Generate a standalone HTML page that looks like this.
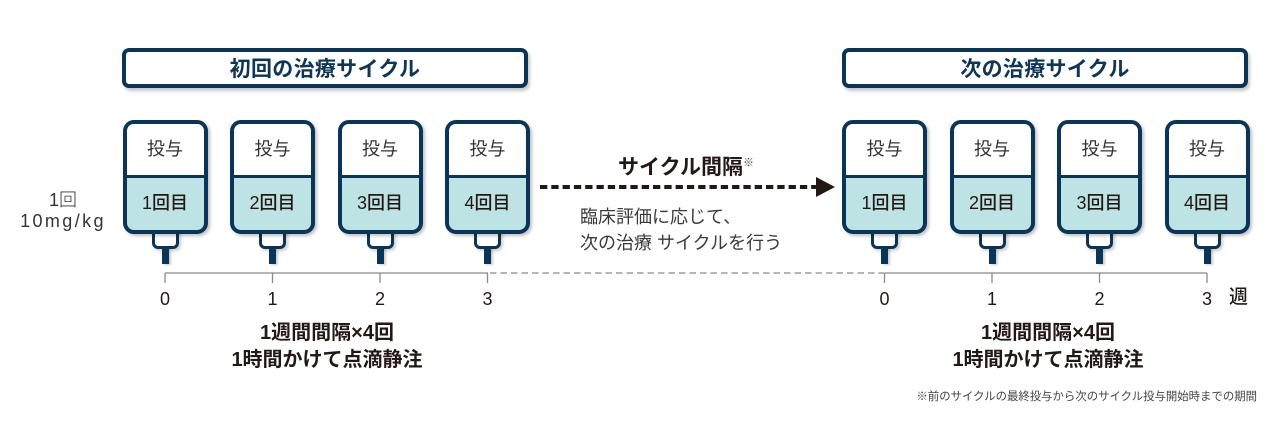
<!DOCTYPE html>
<html><head><meta charset="utf-8"><style>
*{margin:0;padding:0;box-sizing:border-box}
html,body{width:1280px;height:442px;background:#fff;overflow:hidden}
body{position:relative;font-family:"Liberation Sans","Noto Sans CJK JP",sans-serif;color:#231815}
.abs{position:absolute}
.hdr{position:absolute;top:48px;height:40px;width:406px;border:4px solid #0b3558;border-radius:7px;background:#fff;box-shadow:2px 3px 3px rgba(0,0,0,0.22);
 font-size:21px;font-weight:700;color:#0f3557;text-align:center;line-height:32px;padding-top:2px;letter-spacing:0.3px}
.bag{position:absolute;top:120px;width:85px;height:114px;border:4px solid #0b3558;border-radius:11px;overflow:hidden;background:#bde3e5;box-shadow:2px 2px 3px rgba(0,0,0,0.25);z-index:2}
.bag .t{height:54px;background:#fff;border-bottom:3px solid #0b3558;text-align:center;font-size:18px;line-height:51px;color:#333}
.bag .b{text-align:center;font-size:18px;font-weight:500;line-height:50px;color:#231815}
.con{position:absolute;top:227px;width:27px;height:22px;border:3.5px solid #0b3558;border-radius:0 0 6px 6px;background:#fff;z-index:1;box-shadow:2px 2px 3px rgba(0,0,0,0.2)}
.stem{position:absolute;top:248px;width:7px;height:16px;background:#0b3558;z-index:1;box-shadow:2px 1px 2px rgba(0,0,0,0.2)}
.num{position:absolute;width:40px;text-align:center;font-size:18px;line-height:24px;top:287px}
.c{position:absolute;text-align:center}
</style></head><body>

<svg class="abs" style="left:0;top:0" width="1280" height="442">
 <g stroke="#8a8a8a" stroke-width="1.3" fill="none">
  <line x1="165" y1="273" x2="488" y2="273"/>
  <line x1="165" y1="273" x2="165" y2="283"/>
  <line x1="272.5" y1="273" x2="272.5" y2="283"/>
  <line x1="380" y1="273" x2="380" y2="283"/>
  <line x1="487.5" y1="273" x2="487.5" y2="283"/>
  <line x1="490" y1="273" x2="884" y2="273" stroke-dasharray="6.5 4"/>
  <line x1="884.5" y1="273" x2="1207" y2="273"/>
  <line x1="884.5" y1="273" x2="884.5" y2="283"/>
  <line x1="992" y1="273" x2="992" y2="283"/>
  <line x1="1099.5" y1="273" x2="1099.5" y2="283"/>
  <line x1="1207" y1="273" x2="1207" y2="283"/>
 </g>
 <line x1="540" y1="187" x2="816" y2="187" stroke="#231815" stroke-width="4" stroke-dasharray="7.3 4"/>
 <polygon points="816,177 835,187 816,197" fill="#231815"/>
</svg>

<div class="hdr" style="left:122px">初回の治療サイクル</div>
<div class="hdr" style="left:842px">次の治療サイクル</div>

<!-- left bags -->
<div class="bag" style="left:122.5px"><div class="t">投与</div><div class="b">1回目</div></div>
<div class="con" style="left:151.5px"></div><div class="stem" style="left:161.5px"></div>
<div class="bag" style="left:230px"><div class="t">投与</div><div class="b">2回目</div></div>
<div class="con" style="left:259px"></div><div class="stem" style="left:269px"></div>
<div class="bag" style="left:337.5px"><div class="t">投与</div><div class="b">3回目</div></div>
<div class="con" style="left:366.5px"></div><div class="stem" style="left:376.5px"></div>
<div class="bag" style="left:445px"><div class="t">投与</div><div class="b">4回目</div></div>
<div class="con" style="left:474px"></div><div class="stem" style="left:484px"></div>

<!-- right bags -->
<div class="bag" style="left:842px"><div class="t">投与</div><div class="b">1回目</div></div>
<div class="con" style="left:871px"></div><div class="stem" style="left:881px"></div>
<div class="bag" style="left:949.5px"><div class="t">投与</div><div class="b">2回目</div></div>
<div class="con" style="left:978.5px"></div><div class="stem" style="left:988.5px"></div>
<div class="bag" style="left:1057px"><div class="t">投与</div><div class="b">3回目</div></div>
<div class="con" style="left:1086px"></div><div class="stem" style="left:1096px"></div>
<div class="bag" style="left:1164.5px"><div class="t">投与</div><div class="b">4回目</div></div>
<div class="con" style="left:1193.5px"></div><div class="stem" style="left:1203.5px"></div>

<!-- dose label -->
<div class="c" style="left:3px;width:120px;top:188px;font-size:18px;line-height:24px;font-weight:300;color:#333">1回</div>
<div class="c" style="left:3px;width:120px;top:209px;font-size:18px;line-height:24px;font-weight:300;color:#333;letter-spacing:2.4px">10mg/kg</div>

<!-- axis numbers -->
<div class="num" style="left:145px">0</div>
<div class="num" style="left:252.5px">1</div>
<div class="num" style="left:360px">2</div>
<div class="num" style="left:467.5px">3</div>
<div class="num" style="left:864.5px">0</div>
<div class="num" style="left:972px">1</div>
<div class="num" style="left:1079.5px">2</div>
<div class="num" style="left:1187px">3</div>
<div class="abs" style="left:1229px;top:286px;font-size:19px;line-height:24px;font-weight:500">週</div>

<!-- middle -->
<div class="abs" style="left:618px;top:150px;font-size:21px;line-height:26px;font-weight:700;white-space:nowrap">サイクル間隔<span style="font-size:11px;font-weight:400;vertical-align:8px;color:#444">※</span></div>
<div class="abs" style="left:580px;top:205px;font-size:18px;line-height:24px;font-weight:400;color:#3a3a3a;white-space:nowrap">臨床評価に応じて、</div>
<div class="abs" style="left:580px;top:231px;font-size:18px;line-height:24px;font-weight:400;color:#3a3a3a;white-space:nowrap">次の治療 サイクルを行う</div>

<!-- bottom notes -->
<div class="c" style="left:227px;width:200px;top:321px;font-size:20px;line-height:24px;font-weight:700;white-space:nowrap">1週間間隔×4回</div>
<div class="c" style="left:227px;width:200px;top:348px;font-size:20px;line-height:24px;font-weight:700;white-space:nowrap">1時間かけて点滴静注</div>
<div class="c" style="left:948px;width:200px;top:321px;font-size:20px;line-height:24px;font-weight:700;white-space:nowrap">1週間間隔×4回</div>
<div class="c" style="left:948px;width:200px;top:348px;font-size:20px;line-height:24px;font-weight:700;white-space:nowrap">1時間かけて点滴静注</div>

<div class="abs" style="right:23px;top:389px;font-size:11.4px;line-height:16px;color:#444;white-space:nowrap">※前のサイクルの最終投与から次のサイクル投与開始時までの期間</div>

</body></html>
